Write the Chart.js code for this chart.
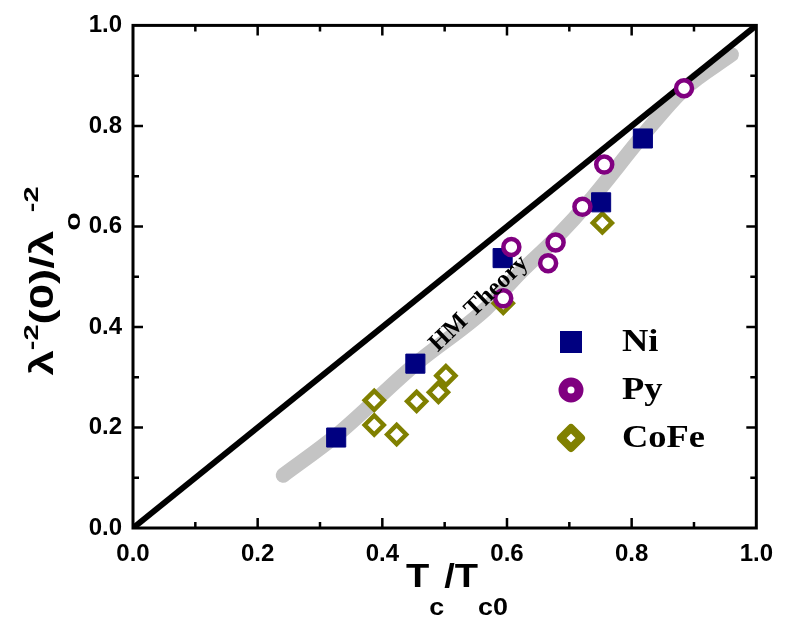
<!DOCTYPE html>
<html>
<head>
<meta charset="utf-8">
<script src="https://cdn.jsdelivr.net/npm/chart.js@4.4.1/dist/chart.umd.min.js"></script>
<style>
html, body { margin: 0; padding: 0; background: #fff; }
canvas { display: block; }
</style>
</head>
<body>
<canvas id="chart" width="785" height="621"></canvas>
<script>
// values
const niX = [0.326, 0.453, 0.593, 0.751, 0.818];
const niY = [0.180, 0.327, 0.537, 0.648, 0.775];
const pyX = [0.594, 0.607, 0.666, 0.678, 0.721, 0.756, 0.884];
const pyY = [0.457, 0.559, 0.527, 0.568, 0.639, 0.723, 0.875];
const cofeX = [0.387, 0.387, 0.423, 0.455, 0.490, 0.502, 0.594, 0.753];
const cofeY = [0.254, 0.205, 0.186, 0.252, 0.270, 0.303, 0.447, 0.607];
// grey "HM Theory" band, centre line
const hmX = [0.241, 0.326, 0.453, 0.566, 0.621, 0.677, 0.737, 0.818, 0.884, 0.96];
const hmY = [0.105, 0.184, 0.326, 0.436, 0.508, 0.575, 0.657, 0.781, 0.873, 0.942];
// y = x reference line
const diagX = [0, 1];
const diagY = [0, 1];
const tickValues = [0, 0.2, 0.4, 0.6, 0.8, 1.0];

const NAVY = '#000080', PURPLE = '#800080', OLIVE = '#808000';

function pts(xs, ys) {
  return xs.map((v, i) => ({x: v, y: ys[i]}));
}

const framePlugin = {
  id: 'frame',
  afterDatasetsDraw(chart) {
    const {ctx, chartArea: a, scales: {x, y}} = chart;
    ctx.save();
    ctx.strokeStyle = '#000';
    ctx.lineWidth = 2.5;
    ctx.beginPath();
    for (let i = 1; i < tickValues.length * 2 - 2; i++) {
      const v = i * (tickValues[1] - tickValues[0]) / 2;
      const len = i % 2 === 0 ? 10 : 6;
      const px = x.getPixelForValue(v);
      ctx.moveTo(px, a.bottom); ctx.lineTo(px, a.bottom - len);
      ctx.moveTo(px, a.top); ctx.lineTo(px, a.top + len);
      const py = y.getPixelForValue(v);
      ctx.moveTo(a.left, py); ctx.lineTo(a.left + len, py);
      ctx.moveTo(a.right, py); ctx.lineTo(a.right - len, py);
    }
    ctx.stroke();
    ctx.lineWidth = 3;
    ctx.strokeRect(a.left, a.top, a.right - a.left, a.bottom - a.top);

    // HM Theory label along the band
    ctx.save();
    ctx.translate(x.getPixelForValue(0.555), y.getPixelForValue(0.446));
    ctx.rotate(-44 * Math.PI / 180);
    ctx.font = 'bold 25px "Liberation Serif"';
    ctx.fillStyle = '#000';
    ctx.textAlign = 'center';
    ctx.textBaseline = 'middle';
    ctx.fillText('HM Theory', 0, 0);
    ctx.restore();
    ctx.restore();
  }
};

// draws a run of text pieces with their own size and baseline shift
function drawPieces(ctx, pieces) {
  let u = 0;
  pieces.forEach(p => {
    ctx.font = 'bold ' + p.size + 'px "Liberation Sans"';
    ctx.fillText(p.t, u, p.dy || 0);
    u += ctx.measureText(p.t).width;
  });
  return u;
}
function piecesWidth(ctx, pieces) {
  let w = 0;
  pieces.forEach(p => {
    ctx.font = 'bold ' + p.size + 'px "Liberation Sans"';
    w += ctx.measureText(p.t).width;
  });
  return w;
}

const titlePlugin = {
  id: 'titles',
  afterDraw(chart) {
    const {ctx, chartArea: a} = chart;
    ctx.save();
    ctx.fillStyle = '#000';
    ctx.textAlign = 'left';
    ctx.textBaseline = 'alphabetic';

    // x title: Tc/Tc0
    const xt = [
      {t: 'T', size: 34}, {t: 'c', size: 24, dy: 28},
      {t: '/', size: 34}, {t: 'T', size: 34}, {t: 'c0', size: 24, dy: 28}
    ];
    ctx.save();
    const sx = 1.12;
    const xw = piecesWidth(ctx, xt) * sx;
    ctx.translate(457 - xw / 2, a.bottom + 59);
    ctx.scale(sx, 1);
    drawPieces(ctx, xt);
    ctx.restore();

    // y title: λ^-2(0)/λ0^-2
    const yt = [
      {t: 'λ', size: 33}, {t: '-2', size: 21, dy: -15},
      {t: '(0)/λ', size: 33}, {t: 'o', size: 22, dy: 27},
      {t: '-2', size: 21, dy: -15}
    ];
    ctx.save();
    const sy = 1.38;
    const yw = piecesWidth(ctx, yt) * sy;
    ctx.translate(53, 281 + yw / 2);
    ctx.rotate(-Math.PI / 2);
    ctx.scale(sy, 1);
    drawPieces(ctx, yt);
    ctx.restore();

    // legend
    const lx = a.left + 438;
    const rows = [
      {name: 'Ni', y: 342}, {name: 'Py', y: 390}, {name: 'CoFe', y: 438}
    ];
    ctx.lineJoin = 'round';
    // Ni square
    ctx.fillStyle = NAVY;
    ctx.fillRect(lx - 11, rows[0].y - 11, 22, 22);
    // Py ring
    ctx.beginPath();
    ctx.arc(lx, rows[1].y, 8, 0, Math.PI * 2);
    ctx.fillStyle = '#fff';
    ctx.fill();
    ctx.lineWidth = 9;
    ctx.strokeStyle = PURPLE;
    ctx.stroke();
    // CoFe diamond
    ctx.beginPath();
    ctx.moveTo(lx, rows[2].y - 10);
    ctx.lineTo(lx + 10, rows[2].y);
    ctx.lineTo(lx, rows[2].y + 10);
    ctx.lineTo(lx - 10, rows[2].y);
    ctx.closePath();
    ctx.fill();
    ctx.lineWidth = 8;
    ctx.strokeStyle = OLIVE;
    ctx.stroke();

    ctx.fillStyle = '#000';
    ctx.font = 'bold 32px "Liberation Serif"';
    ctx.textBaseline = 'middle';
    rows.forEach(r => {
      ctx.save();
      ctx.translate(lx + 51, r.y + 1);
      ctx.scale(1.14, 1);
      ctx.fillText(r.name, 0, 0);
      ctx.restore();
    });
    ctx.restore();
  }
};

const tickFont = {family: '"Liberation Sans", Arial, sans-serif', size: 24, weight: 'bold'};

new Chart(document.getElementById('chart'), {
  type: 'scatter',
  data: {
    datasets: [
      {
        label: 'Py',
        data: pts(pyX, pyY),
        pointStyle: 'circle',
        pointRadius: 8,
        borderWidth: 4.5,
        borderColor: PURPLE,
        backgroundColor: '#fff',
        order: 1
      },
      {
        label: 'Ni',
        data: pts(niX, niY),
        pointStyle: 'rect',
        pointRadius: 13.5,
        borderWidth: 1,
        borderColor: NAVY,
        backgroundColor: NAVY,
        order: 2
      },
      {
        label: 'CoFe',
        data: pts(cofeX, cofeY),
        pointStyle: 'rectRot',
        pointRadius: 9.5,
        borderWidth: 4.5,
        borderColor: OLIVE,
        backgroundColor: '#fff',
        order: 3
      },
      {
        label: 'diag',
        type: 'line',
        data: pts(diagX, diagY),
        borderColor: '#000',
        borderWidth: 6,
        pointRadius: 0,
        order: 4
      },
      {
        label: 'HM Theory',
        type: 'line',
        data: pts(hmX, hmY),
        borderColor: '#c4c4c4',
        borderWidth: 15,
        borderCapStyle: 'round',
        borderJoinStyle: 'round',
        cubicInterpolationMode: 'monotone',
        pointRadius: 0,
        order: 5
      }
    ]
  },
  options: {
    responsive: false,
    animation: false,
    devicePixelRatio: 1,
    layout: {padding: {left: 0, top: 16, right: 21, bottom: 0}},
    plugins: {
      legend: {display: false},
      tooltip: {enabled: false}
    },
    scales: {
      x: {
        type: 'linear',
        min: 0,
        max: 1,
        grid: {display: false, drawTicks: false},
        border: {display: false},
        afterFit: s => { s.height = 93; },
        afterBuildTicks: s => { s.ticks = tickValues.map(v => ({value: v})); },
        ticks: {
          font: tickFont,
          color: '#000',
          padding: 12,
          maxRotation: 0,
          callback: v => v.toFixed(1)
        }
      },
      y: {
        type: 'linear',
        min: 0,
        max: 1,
        grid: {display: false, drawTicks: false},
        border: {display: false},
        afterFit: s => { s.width = 133; },
        afterBuildTicks: s => { s.ticks = tickValues.map(v => ({value: v})); },
        ticks: {
          font: tickFont,
          color: '#000',
          padding: 11,
          callback: v => v.toFixed(1)
        }
      }
    }
  },
  plugins: [framePlugin, titlePlugin]
});
</script>
</body>
</html>
